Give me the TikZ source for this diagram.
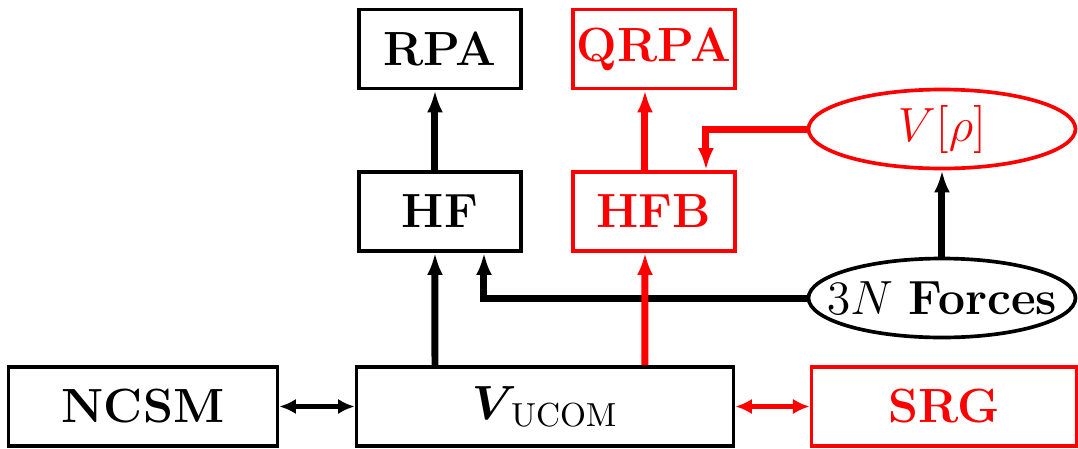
\documentclass[tikz,border=0pt]{standalone}
\usepackage{amsmath}
\usepackage{amssymb}
\usepackage{xcolor}
\usepackage{tikz}
\usetikzlibrary{arrows.meta, positioning, calc, shapes.geometric}

\begin{document}
\begin{tikzpicture}[
  x=0.3pt, y=-0.3pt,
  box/.style={
    rectangle,
    draw,
    line width=1.1pt,
    inner sep=0pt,
    minimum width=48.6pt,
    minimum height=23.7pt,
    font=\Large\bfseries
  },
  ebox/.style={
    ellipse,
    draw,
    line width=1.1pt,
    inner sep=0pt,
    minimum width=80.1pt,
    minimum height=23.7pt,
    font=\Large
  },
  arrow/.style={-{Latex[length=6.6pt, width=4.8pt]}, line width=2.1pt},
  darrow/.style={{Latex[length=5pt, width=4.6pt]}-{Latex[length=5pt, width=4.6pt]}, line width=1.7pt}
]
\useasboundingbox (0,0) rectangle (1078,449);

% Obere Reihe
\node[box] (rpa) at (440, 49) {RPA};
\node[box, draw=red, text=red] (qrpa) at (654, 49) {QRPA};

% Mittlere Reihe
\node[box] (hf) at (440, 211.5) {HF};
\node[box, draw=red, text=red] (hfb) at (654, 211.5) {HFB};
\node[ebox, draw=red, text=red] (vrho) at (942, 129) {$V[\rho]$};
\node[ebox] (forces) at (942, 298) {\makebox[0pt]{$3N$ \textbf{Forces}}};

% Untere Reihe
\node[box, minimum width=80.7pt] (ncsm) at (143, 406.5) {NCSM};
\node[box, minimum width=113.1pt, font=\Large] (ucom) at (545, 406.5) {$\boldsymbol{V}_{\!\mathrm{UCOM}}$};
\node[box, minimum width=79.5pt, draw=red, text=red] (srg) at (944, 406.5) {SRG};

% Verbindungen
\draw[arrow] ([xshift=-1.5pt]hf.north) -- ([xshift=-1.5pt]rpa.south);
\draw[arrow] ([xshift=-33pt]ucom.north) -- ([xshift=-1.5pt]hf.south);
\draw[arrow] (forces.west) -| ([xshift=13.2pt]hf.south);
\draw[arrow] (forces.north) -- (vrho.south);
\draw[arrow, red] ([xshift=-2.7pt]hfb.north) -- ([xshift=-2.7pt]qrpa.south);
\draw[arrow, red] ([xshift=30pt]ucom.north) -- ([xshift=-2.7pt]hfb.south);
\draw[arrow, red] (vrho.west) -| ([xshift=15.6pt]hfb.north);
\draw[darrow] (ncsm) -- (ucom);
\draw[darrow, red] (ucom) -- (srg);

\end{tikzpicture}
\end{document}
